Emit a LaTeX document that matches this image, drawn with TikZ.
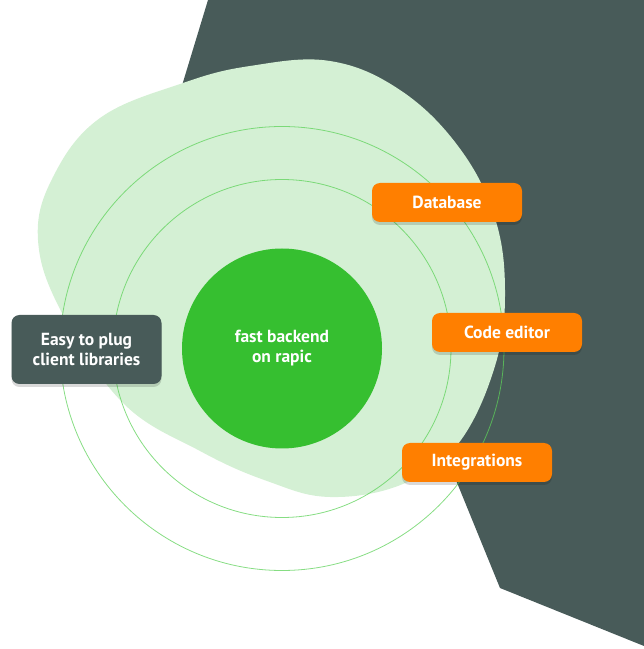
\documentclass[tikz,border=0pt]{standalone}
\usepackage{fontspec}
\setmainfont{PT Sans}
\usepackage{tikz}
\usetikzlibrary{shadows}
\definecolor{slate}{HTML}{485B59}
\definecolor{blobgreen}{HTML}{D4F0D4}
\definecolor{hubgreen}{HTML}{36BF30}
\definecolor{ringgreen}{HTML}{5ED25A}
\definecolor{featureorange}{HTML}{FF7F00}
\tikzset{
	card/.style    = {shape=rectangle, rounded corners=8pt,
		align=center, inner sep=0pt,
		minimum width=150pt, minimum height=39pt,
		text=white, font=\bfseries\fontsize{17.5}{20}\selectfont,
		drop shadow={shadow xshift=0pt, shadow yshift=-3pt,
			fill=black, opacity=0.15}},
	feature/.style = {card, fill=featureorange},
	client/.style  = {card, fill=slate, minimum height=69pt},
	hub/.style     = {circle, fill=hubgreen, minimum size=200pt, inner sep=0pt,
		align=center, text=white, font=\bfseries\fontsize{17.5}{20}\selectfont},
	ring/.style    = {draw=ringgreen, line width=0.8pt, draw opacity=0.75}
}
\begin{document}
\begin{tikzpicture}[x=1pt, y=1pt]
\useasboundingbox (0,0) rectangle (644,649);
% dark backdrop
\fill[slate] (208,649) -- (644,649) -- (644,3) -- (500,61) -- (460,159)
	-- (420,257) -- (170,524) -- cycle;
% light blob
\fill[blobgreen] plot[smooth cycle, tension=0.65] coordinates {
	(183,566) (250,583) (330,588) (400,559) (458,503) (494,434) (505,359)
	(495,283) (458,205) (403,165) (330,152) (267,168) (200,198)
	(123,246) (62,336) (38,409) (53,472) (100,531)};
\node [hub] (hub) at (282,300.5) {fast backend\\on rapic};
\draw [ring] (hub.center) circle [radius=169];
\draw [ring] (hub.center) circle [radius=222];
\node [client]  (client) at (86.5,299.5) {Easy to plug\\client libraries};
\node [feature] (db)     at (447,446.5) {Database};
\node [feature] (editor) at (507,316.5) {Code editor};
\node [feature] (integ)  at (477,186.5) {Integrations};
\end{tikzpicture}
\end{document}
